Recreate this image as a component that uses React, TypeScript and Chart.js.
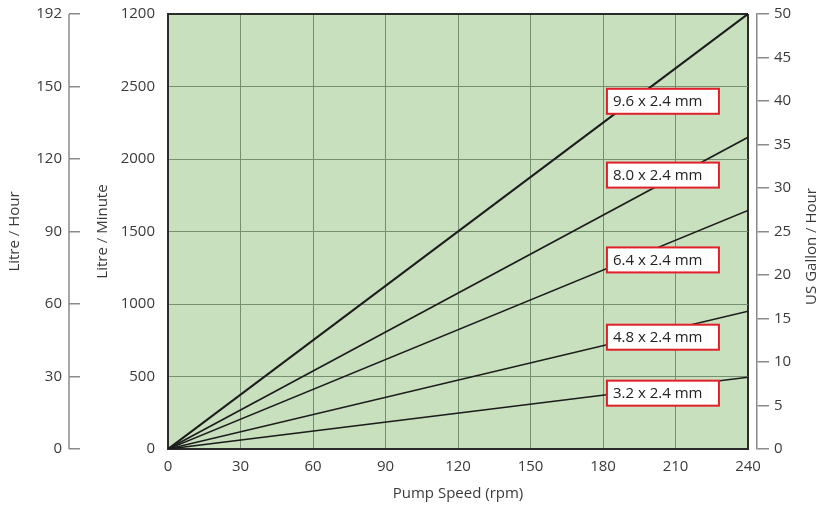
import React, { useEffect, useRef } from "react";
import { Chart, registerables } from "chart.js";

Chart.register(...registerables);

// ---- data ----
const RPM = [0, 240];
const SERIES_NAMES = ["9.6 x 2.4 mm", "8.0 x 2.4 mm", "6.4 x 2.4 mm", "4.8 x 2.4 mm", "3.2 x 2.4 mm"];
const S96 = [0, 3000];
const S80 = [0, 2150];
const S64 = [0, 1645];
const S48 = [0, 950];
const S32 = [0, 495];
const SERIES_VALUES = [S96, S80, S64, S48, S32];

// label anchors (in data units: rpm, left-axis units)
const LABEL_RPM = 204.8;
const LABEL_VALUES = [2398, 1889, 1304, 771, 385];

const LMIN_TICK_LABELS = ["0", "500", "1000", "1500", "2000", "2500", "1200"];
const LHOUR_TICK_LABELS = ["0", "30", "60", "90", "120", "150", "192"];
const GAL_TICKS = [0, 5, 10, 15, 20, 25, 30, 35, 40, 45, 50];

const FONT = "'Open Sans', 'Noto Sans', sans-serif";
const TEXT = "#3a3a3a";
const GREEN = "#c8e0bd";
const GRID = "#758f71";
const DARK = "#2b2b2b";
const AXIS_GRAY = "#8a8a8a";

const bgPlugin = {
  id: "bgPlugin",
  beforeDraw(chart: any) {
    const { ctx, chartArea: a } = chart;
    ctx.save();
    ctx.fillStyle = GREEN;
    ctx.fillRect(a.left, a.top, a.right - a.left, a.bottom - a.top);
    ctx.restore();
  },
};

const extrasPlugin = {
  id: "extrasPlugin",
  afterDraw(chart: any) {
    const ctx = chart.ctx;
    const xs = chart.scales.x;
    const ys = chart.scales.y;
    // outer litre/hour axis line
    const h = chart.scales.yHour;
    const tl = h.options.grid.tickLength;
    ctx.save();
    ctx.strokeStyle = AXIS_GRAY;
    ctx.lineWidth = 1.5;
    ctx.beginPath();
    ctx.moveTo(h.right - tl, h.top);
    ctx.lineTo(h.right - tl, h.bottom);
    ctx.stroke();

    // right title
    const g = chart.scales.yGal;
    ctx.font = `15px ${FONT}`;
    ctx.fillStyle = TEXT;
    ctx.textAlign = "center";
    ctx.textBaseline = "middle";
    ctx.translate(g.right - 10, (g.top + g.bottom) / 2 + 15);
    ctx.rotate(-Math.PI / 2);
    ctx.fillText("US Gallon / Hour", 0, 0);
    ctx.restore();

    // label boxes
    ctx.save();
    ctx.font = `15px ${FONT}`;
    ctx.textAlign = "left";
    ctx.textBaseline = "middle";
    SERIES_NAMES.forEach((name, i) => {
      const cx = xs.getPixelForValue(LABEL_RPM);
      const cy = ys.getPixelForValue(LABEL_VALUES[i]);
      const w = 112;
      const hh = 25;
      const x0 = cx - w / 2;
      const y0 = cy - hh / 2;
      ctx.fillStyle = "#ffffff";
      ctx.fillRect(x0, y0, w, hh);
      ctx.strokeStyle = "#e0202a";
      ctx.lineWidth = 2;
      ctx.strokeRect(x0, y0, w, hh);
      ctx.fillStyle = "#222";
      ctx.fillText(name, x0 + 6, cy + 0.5);
    });
    ctx.restore();
  },
};

export default function App() {
  const ref = useRef<HTMLCanvasElement | null>(null);
  useEffect(() => {
    if (!ref.current) return;
    const datasets = SERIES_VALUES.map((vals, i) => ({
      label: SERIES_NAMES[i],
      data: vals.map((v, j) => ({ x: RPM[j], y: v })),
      borderColor: "#1c1c1c",
      borderWidth: i === 0 ? 2.2 : 1.6,
      pointRadius: 0,
      fill: false,
      yAxisID: "y",
      xAxisID: "x",
    }));
    const tickFont = { family: FONT, size: 15 };
    const titleFont = { family: FONT, size: 15 };
    const chart = new Chart(ref.current, {
      type: "line",
      data: { datasets },
      plugins: [bgPlugin, extrasPlugin],
      options: {
        animation: false,
        responsive: true,
        maintainAspectRatio: false,
        layout: { padding: { top: 0, left: 0, right: 0, bottom: 0 } },
        plugins: { legend: { display: false }, tooltip: { enabled: false } },
        scales: {
          x: {
            type: "linear",
            position: "bottom",
            min: 0,
            max: 240,
            ticks: { stepSize: 30, font: tickFont, color: TEXT, padding: 9 },
            grid: {
              drawTicks: false,
              color: (c: any) => (c.tick && c.tick.value === 240 ? DARK : GRID),
              lineWidth: (c: any) => (c.tick && c.tick.value === 240 ? 2 : 1),
            },
            border: { display: true, color: DARK, width: 2 },
            title: { display: true, text: "Pump Speed (rpm)", font: titleFont, color: TEXT, padding: { top: 0, bottom: 3 } },
            afterFit: (s: any) => { s.height = 57; },
          },
          y: {
            type: "linear",
            position: "left",
            weight: 0,
            min: 0,
            max: 3000,
            ticks: {
              stepSize: 500,
              font: tickFont,
              color: TEXT,
              padding: 13,
              callback: (_v: any, i: number) => LMIN_TICK_LABELS[i],
            },
            grid: {
              drawTicks: false,
              color: (c: any) => (c.tick && c.tick.value === 3000 ? DARK : GRID),
              lineWidth: (c: any) => (c.tick && c.tick.value === 3000 ? 2 : 1),
            },
            border: { display: true, color: DARK, width: 2 },
            title: { display: true, text: "Litre / Minute", font: titleFont, color: TEXT, padding: { top: 14, bottom: 0 } },
            afterFit: (s: any) => { s.width = 88; },
          },
          yHour: {
            type: "linear",
            position: "left",
            weight: 1,
            min: 0,
            max: 180,
            ticks: {
              stepSize: 30,
              font: tickFont,
              color: TEXT,
              padding: 7,
              callback: (_v: any, i: number) => LHOUR_TICK_LABELS[i],
            },
            grid: { drawOnChartArea: false, drawTicks: true, tickLength: 11, color: AXIS_GRAY, lineWidth: 1.5 },
            border: { display: false },
            title: { display: true, text: "Litre / Hour", font: titleFont, color: TEXT, padding: { top: 6, bottom: 0 } },
            afterFit: (s: any) => { s.width = 80; },
          },
          ySpacer: {
            type: "linear",
            position: "right",
            weight: 0,
            min: 0,
            max: 1,
            ticks: { display: false },
            grid: { display: false },
            border: { display: false },
            afterFit: (s: any) => { s.width = 9; },
          },
          yGal: {
            type: "linear",
            position: "right",
            weight: 1,
            min: 0,
            max: 50,
            afterBuildTicks: (s: any) => { s.ticks = GAL_TICKS.map((v) => ({ value: v })); },
            ticks: { font: tickFont, color: TEXT, padding: 5 },
            grid: { drawOnChartArea: false, drawTicks: true, tickLength: 12, color: AXIS_GRAY, lineWidth: 1.5 },
            border: { display: true, color: AXIS_GRAY, width: 1.5 },
            afterFit: (s: any) => { s.width = 65; },
          },
        },
      } as any,
    });
    return () => chart.destroy();
  }, []);
  return (
    <div style={{ position: "absolute", left: 0, top: -8, width: 822, height: 514, background: "#fff" }}>
      <canvas ref={ref} />
    </div>
  );
}
